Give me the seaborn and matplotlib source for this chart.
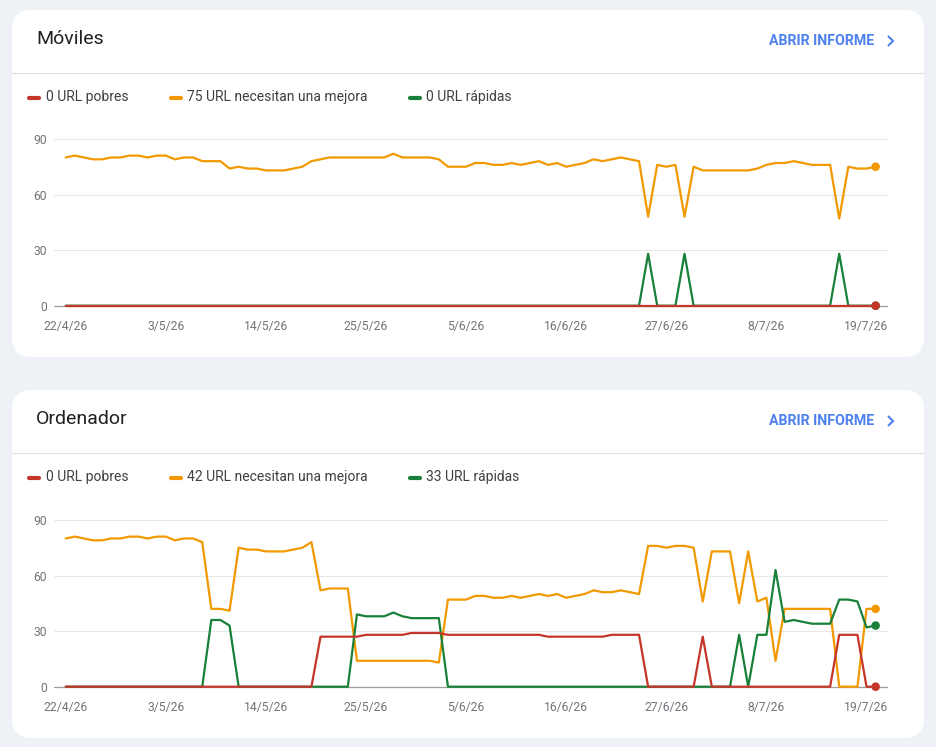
"""Core Web Vitals style overview: Móviles / Ordenador cards"""

import pandas as pd
import matplotlib
matplotlib.use("Agg")
import matplotlib.pyplot as plt
from matplotlib.patches import FancyBboxPatch
import seaborn as sns

# ---- data ----
dates = pd.date_range("2026-04-22", periods=90, freq="D")
tick_days = [0, 11, 22, 33, 44, 55, 66, 77, 88]
tick_labels = ["22/4/26", "3/5/26", "14/5/26", "25/5/26", "5/6/26",
               "16/6/26", "27/6/26", "8/7/26", "19/7/26"]

movil_mejora = [80, 81, 80, 79, 79, 80, 80, 81, 81, 80, 81, 81, 79, 80, 80,
                78, 78, 78, 74, 75, 74, 74, 73, 73, 73, 74, 75, 78, 79, 80,
                80, 80, 80, 80, 80, 80, 82, 80, 80, 80, 80, 79, 75, 75, 75,
                77, 77, 76, 76, 77, 76, 77, 78, 76, 77, 75, 76, 77, 79, 78,
                79, 80, 79, 78, 48, 76, 75, 76, 48, 75, 73, 73, 73, 73, 73,
                73, 74, 76, 77, 77, 78, 77, 76, 76, 76, 47, 75, 74, 74, 75]
movil_rapidas = [0] * 64 + [28, 0, 0, 0, 28] + [0] * 16 + [28, 0, 0, 0, 0]
movil_pobres = [0] * 90

orden_mejora = [80, 81, 80, 79, 79, 80, 80, 81, 81, 80, 81, 81, 79, 80, 80,
                78, 42, 42, 41, 75, 74, 74, 73, 73, 73, 74, 75, 78, 52, 53,
                53, 53, 14, 14, 14, 14, 14, 14, 14, 14, 14, 13, 47, 47, 47,
                49, 49, 48, 48, 49, 48, 49, 50, 49, 50, 48, 49, 50, 52, 51,
                51, 52, 51, 50, 76, 76, 75, 76, 76, 75, 46, 73, 73, 73, 45,
                73, 46, 48, 14, 42, 42, 42, 42, 42, 42, 0, 0, 0, 42, 42]
orden_rapidas = ([0] * 16 + [36, 36, 33] + [0] * 13
                 + [39, 38, 38, 38, 40, 38, 37, 37, 37, 37] + [0] * 32
                 + [28, 0, 28, 28, 63, 35, 36, 35, 34, 34, 34, 47, 47, 46, 32, 33])
orden_pobres = ([0] * 28 + [27] * 5 + [28] * 5 + [29] * 4 + [28] * 11
                + [27] * 7 + [28] * 4 + [0] * 6 + [27] + [0] * 14
                + [28, 28, 28, 0, 0])

series_order = ["mejora", "rapidas", "pobres"]
colors = {"pobres": "#c5352a", "mejora": "#f29900", "rapidas": "#188038"}

cards = [
    {"title": "Móviles", "top": 10, "bottom": 357, "zero": 305.7,
     "legend": ["0 URL pobres", "75 URL necesitan una mejora", "0 URL rápidas"],
     "data": {"pobres": movil_pobres, "mejora": movil_mejora, "rapidas": movil_rapidas}},
    {"title": "Ordenador", "top": 390, "bottom": 738, "zero": 686.7,
     "legend": ["0 URL pobres", "42 URL necesitan una mejora", "33 URL rápidas"],
     "data": {"pobres": orden_pobres, "mejora": orden_mejora, "rapidas": orden_rapidas}},
]

# ---- figure ----
W, H = 936, 747
sns.set_style("white")
plt.rcParams["font.family"] = ["Roboto", "DejaVu Sans"]

fig = plt.figure(figsize=(W / 100, H / 100), dpi=100, facecolor="#eef2f7")
bg = fig.add_axes([0, 0, 1, 1])
bg.set_xlim(0, W)
bg.set_ylim(H, 0)
bg.axis("off")


def px_axes(x0, y0, x1, y1):
    return fig.add_axes([x0 / W, 1 - y1 / H, (x1 - x0) / W, (y1 - y0) / H])


PX_PER_UNIT = 1.853
legend_x = [(29, 46), (171, 187), (410, 426)]

for card in cards:
    top = card["top"]
    bg.add_patch(FancyBboxPatch((12, top), 912, card["bottom"] - top,
                                boxstyle="round,pad=0,rounding_size=20",
                                fc="white", ec="none"))
    bg.text(36, top + 29, card["title"], fontsize=14, color="#202124",
            va="center", ha="left")
    bg.text(769, top + 31, "ABRIR INFORME", fontsize=10.2, color="#4f82ee",
            fontweight="semibold", va="center", ha="left")
    bg.plot([888.5, 893, 888.5], [top + 26.5, top + 31, top + 35.5],
            color="#4f82ee", lw=1.5, solid_joinstyle="miter")
    bg.plot([12, 924], [top + 62.5, top + 62.5], color="#e0e0e0", lw=0.8)
    for (mx, tx), label, key in zip(legend_x, card["legend"],
                                    ["pobres", "mejora", "rapidas"]):
        bg.plot([mx, mx + 10], [top + 87.5, top + 87.5], color=colors[key],
                lw=3, solid_capstyle="round")
        bg.text(tx, top + 87.5, label, fontsize=10, color="#3c4043",
                va="center", ha="left")

    # chart area
    zero = card["zero"]
    ax = px_axes(54, zero - 93 * PX_PER_UNIT, 888, zero + 3 * PX_PER_UNIT)
    ax.set_facecolor("none")
    df = pd.DataFrame({"fecha": dates, **card["data"]})
    long = df.melt(id_vars="fecha", var_name="serie", value_name="valor")
    sns.lineplot(data=long, x="fecha", y="valor", hue="serie",
                 hue_order=series_order, palette=colors, linewidth=1.6,
                 legend=False, ax=ax)
    for ln in ax.lines:
        ln.set_zorder(3)
    # end-point dots, drawn in the same order as the lines (red on top)
    for i, key in enumerate(series_order):
        last = long[(long.fecha == dates[-1]) & (long.serie == key)]
        sns.scatterplot(data=last, x="fecha", y="valor", color=colors[key],
                        s=38, edgecolor="none", legend=False, ax=ax,
                        zorder=5 + i)

    ax.set_ylim(-3, 93)
    ax.set_xlim(dates[0] - pd.Timedelta(days=1.29),
                dates[0] + pd.Timedelta(days=90.36))
    ax.set_yticks([0, 30, 60, 90])
    ax.set_xticks([dates[d] for d in tick_days])
    ax.set_xticklabels(tick_labels)
    ax.grid(axis="y", color="#e8e8e8", lw=0.8)
    ax.grid(axis="x", visible=False)
    ax.axhline(0, color="#9e9e9e", lw=0.9, zorder=1)
    ax.tick_params(length=0, labelsize=8.7, colors="#70757a")
    ax.tick_params(axis="y", pad=5)
    ax.tick_params(axis="x", pad=6)
    ax.set_xlabel("")
    ax.set_ylabel("")
    for s in ax.spines.values():
        s.set_visible(False)

fig.savefig("out.png", dpi=100)
